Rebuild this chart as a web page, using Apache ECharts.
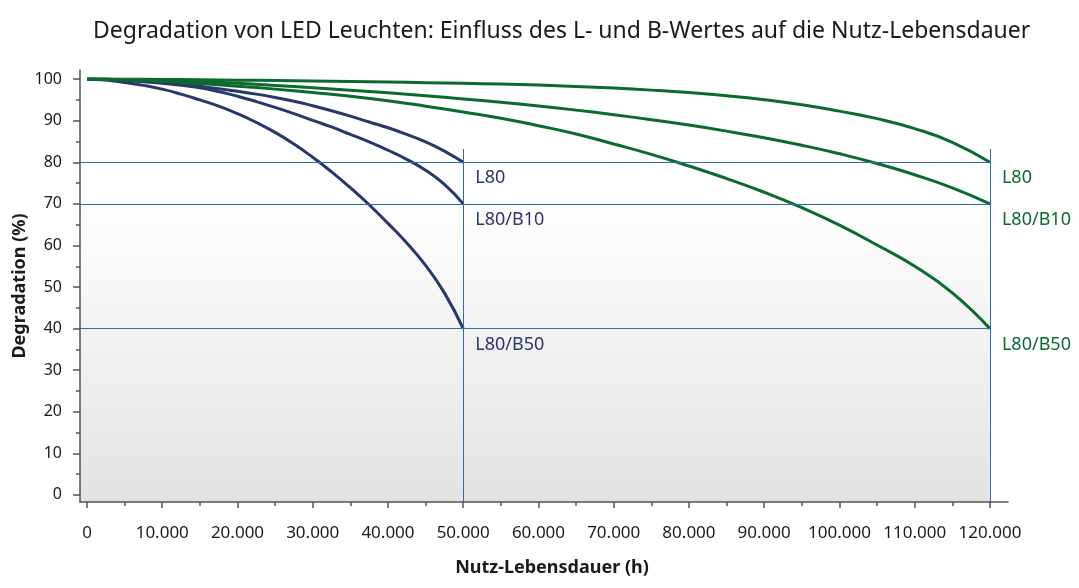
<!DOCTYPE html>
<html>
<head>
<meta charset="utf-8">
<script src="https://cdn.jsdelivr.net/npm/echarts@6/dist/echarts.min.js"></script>
<style>
html,body{margin:0;padding:0;background:#fff;}
#main{width:1079px;height:588px;}
</style>
</head>
<body>
<div id="main"></div>
<script>
// Nutz-Lebensdauer (h) stuetzstellen
var xNavy = [0, 2500, 5000, 7500, 10000, 12500, 15000, 17500, 20000, 22500, 25000, 27500, 30000,
	32500, 35000, 37500, 40000, 42500, 45000, 47500, 50000];
var xGreen = [0, 5000, 10000, 15000, 20000, 25000, 30000, 35000, 40000, 45000, 50000, 55000, 60000,
	65000, 70000, 75000, 80000, 85000, 90000, 95000, 100000, 105000, 110000, 115000, 120000];

var navyL80 = [100, 99.95, 99.8, 99.55, 99.2, 98.8, 98.3, 97.7, 97.1, 96.4, 95.6, 94.7, 93.6,
	92.4, 91.1, 89.7, 88.3, 86.7, 84.9, 82.7, 80];
var navyB10 = [100, 99.95, 99.7, 99.4, 99.0, 98.5, 97.9, 97.0, 95.9, 94.6, 93.2, 91.7, 90.1,
	88.5, 86.7, 84.9, 82.9, 80.7, 78.1, 74.7, 70];
var navyB50 = [100, 99.8, 99.2, 98.5, 97.6, 96.4, 95.0, 93.5, 91.7, 89.6, 87.2, 84.4, 81.2,
	77.7, 73.9, 69.8, 65.3, 60.6, 55.2, 48.6, 40];

var greenL80 = [100, 99.97, 99.92, 99.85, 99.76, 99.66, 99.55, 99.43, 99.3, 99.16, 99.0, 98.82, 98.58,
	98.26, 97.86, 97.36, 96.76, 96.01, 95.06, 93.86, 92.31, 90.5, 88.1, 84.8, 80];
var greenB10 = [100, 99.9, 99.7, 99.4, 99.0, 98.5, 97.95, 97.35, 96.7, 96.0, 95.25, 94.45, 93.55,
	92.55, 91.45, 90.25, 88.95, 87.5, 85.9, 84.1, 82.05, 79.7, 77.0, 73.85, 70];
var greenB50 = [100, 99.8, 99.5, 98.95, 98.3, 97.6, 96.8, 95.9, 94.8, 93.5, 92.1, 90.6, 88.8,
	86.8, 84.4, 81.9, 79.1, 76.1, 72.8, 69.1, 64.9, 60.1, 55.0, 48.6, 40];

var yTicks = [0, 10, 20, 30, 40, 50, 60, 70, 80, 90, 100];
var yMinor = [5, 15, 25, 35, 45, 55, 65, 75, 85, 95];
var xTicks = [0, 10000, 20000, 30000, 40000, 50000, 60000, 70000, 80000, 90000, 100000, 110000, 120000];
var xMinor = [5000, 15000, 25000, 35000, 45000, 55000, 65000, 75000, 85000, 95000, 105000, 115000];

var refLevels = [80, 70, 40];
var refLives = [50000, 120000];

var navy = '#27386b';
var green = '#0b6a2e';

function zip(xs, ys){
	var out = [];
	for(var i=0;i<xs.length;i++){ out.push([xs[i], ys[i]]); }
	return out;
}
function fmt(v){
	return String(v).replace(/\B(?=(\d{3})+(?!\d))/g, '.');
}

var xMin = -930, xMax = 122400, yMin = -1.7, yMax = 102.2;

function curve(name, xs, ys, color){
	return {
		name: name,
		type: 'line',
		data: zip(xs, ys),
		smooth: 0.5,
		showSymbol: false,
		symbol: 'none',
		z: 4,
		lineStyle: {color: color, width: 3},
		endLabel: {
			show: true,
			formatter: name,
			color: color,
			fontSize: 18,
			fontFamily: 'Noto Sans',
			distance: 0,
			offset: [12, 16],
			align: 'left'
		}
	};
}

var hLines = [];
for(var i=0;i<refLevels.length;i++){
	hLines.push([{coord: [xMin, refLevels[i]]}, {coord: [refLives[1], refLevels[i]]}]);
}
var vLines = [];
for(var j=0;j<refLives.length;j++){
	vLines.push([{coord: [refLives[j], yMin]}, {coord: [refLives[j], 83.2]}]);
}

var myChart = echarts.init(document.getElementById('main'));

var axisCol = '#555';

option = {
	animation: false,
	title: {
		text: 'Degradation von LED Leuchten: Einfluss des L- und B-Wertes auf die Nutz-Lebensdauer',
		left: 88,
		top: 15,
		textStyle: {
			fontFamily: 'Noto Sans',
			fontSize: 23,
			fontWeight: 'normal',
			color: '#1a1a1a'
		}
	},
	grid: {left: 80, right: 71, top: 70, bottom: 86, outerBoundsMode: 'none', containLabel: false},
	xAxis: [
		{
			type: 'value',
			min: xMin,
			max: xMax,
			z: 10,
			name: 'Nutz-Lebensdauer (h)',
			nameLocation: 'middle',
			nameGap: 57,
			nameTextStyle: {fontFamily: 'Noto Sans', fontSize: 18, fontWeight: 'bold', color: '#1a1a1a', padding: [0, 0, 0, 16]},
			splitLine: {show: false},
			axisLine: {onZero: false, lineStyle: {color: axisCol, width: 1.5}},
			axisTick: {show: true, customValues: xTicks, length: 6, lineStyle: {color: axisCol, width: 1.5}},
			axisLabel: {customValues: xTicks, formatter: fmt, margin: 23, fontFamily: 'Noto Sans', fontSize: 17, color: '#1a1a1a'}
		},
		{
			type: 'value',
			min: xMin,
			max: xMax,
			z: 10,
			position: 'bottom',
			splitLine: {show: false},
			axisLine: {show: false, onZero: false},
			axisTick: {show: true, customValues: xMinor, length: 4, lineStyle: {color: axisCol, width: 1.5}},
			axisLabel: {show: false}
		}
	],
	yAxis: [
		{
			type: 'value',
			min: yMin,
			max: yMax,
			z: 10,
			name: 'Degradation (%)',
			nameLocation: 'middle',
			nameGap: 51,
			nameMoveOverlap: false,
			nameTextStyle: {fontFamily: 'Noto Sans', fontSize: 18, fontWeight: 'bold', color: '#1a1a1a'},
			splitLine: {show: false},
			axisLine: {show: true, onZero: false, lineStyle: {color: axisCol, width: 1.5}},
			axisTick: {show: true, customValues: yTicks, length: 7, lineStyle: {color: axisCol, width: 1.5}},
			axisLabel: {customValues: yTicks, margin: 18, fontFamily: 'Noto Sans', fontSize: 16, color: '#1a1a1a'}
		},
		{
			type: 'value',
			min: yMin,
			max: yMax,
			z: 10,
			position: 'left',
			splitLine: {show: false},
			axisLine: {show: false, onZero: false},
			axisTick: {show: true, customValues: yMinor, length: 4, lineStyle: {color: axisCol, width: 1.5}},
			axisLabel: {show: false}
		}
	],
	series: [
		{
			name: 'bg',
			type: 'line',
			data: [],
			z: 1,
			silent: true,
			markArea: {
				silent: true,
				itemStyle: {
					color: {
						type: 'linear', x: 0, y: 0, x2: 0, y2: 1,
						colorStops: [
							{offset: 0, color: '#ffffff'},
							{offset: 0.3, color: '#ffffff'},
							{offset: 1, color: '#e3e3e3'}
						]
					}
				},
				data: [[{coord: [xMin, yMax]}, {coord: [refLives[1], yMin]}]]
			},
			markLine: {
				silent: true,
				symbol: 'none',
				label: {show: false},
				lineStyle: {color: '#2e6bb2', width: 1, type: 'solid'},
				data: hLines.concat(vLines)
			}
		},
		curve('L80/B50', xNavy, navyB50, navy),
		curve('L80/B10', xNavy, navyB10, navy),
		curve('L80', xNavy, navyL80, navy),
		curve('L80/B50', xGreen, greenB50, green),
		curve('L80/B10', xGreen, greenB10, green),
		curve('L80', xGreen, greenL80, green)
	]
};

myChart.setOption(option);
window.onresize = myChart.resize;
</script>
</body>
</html>
